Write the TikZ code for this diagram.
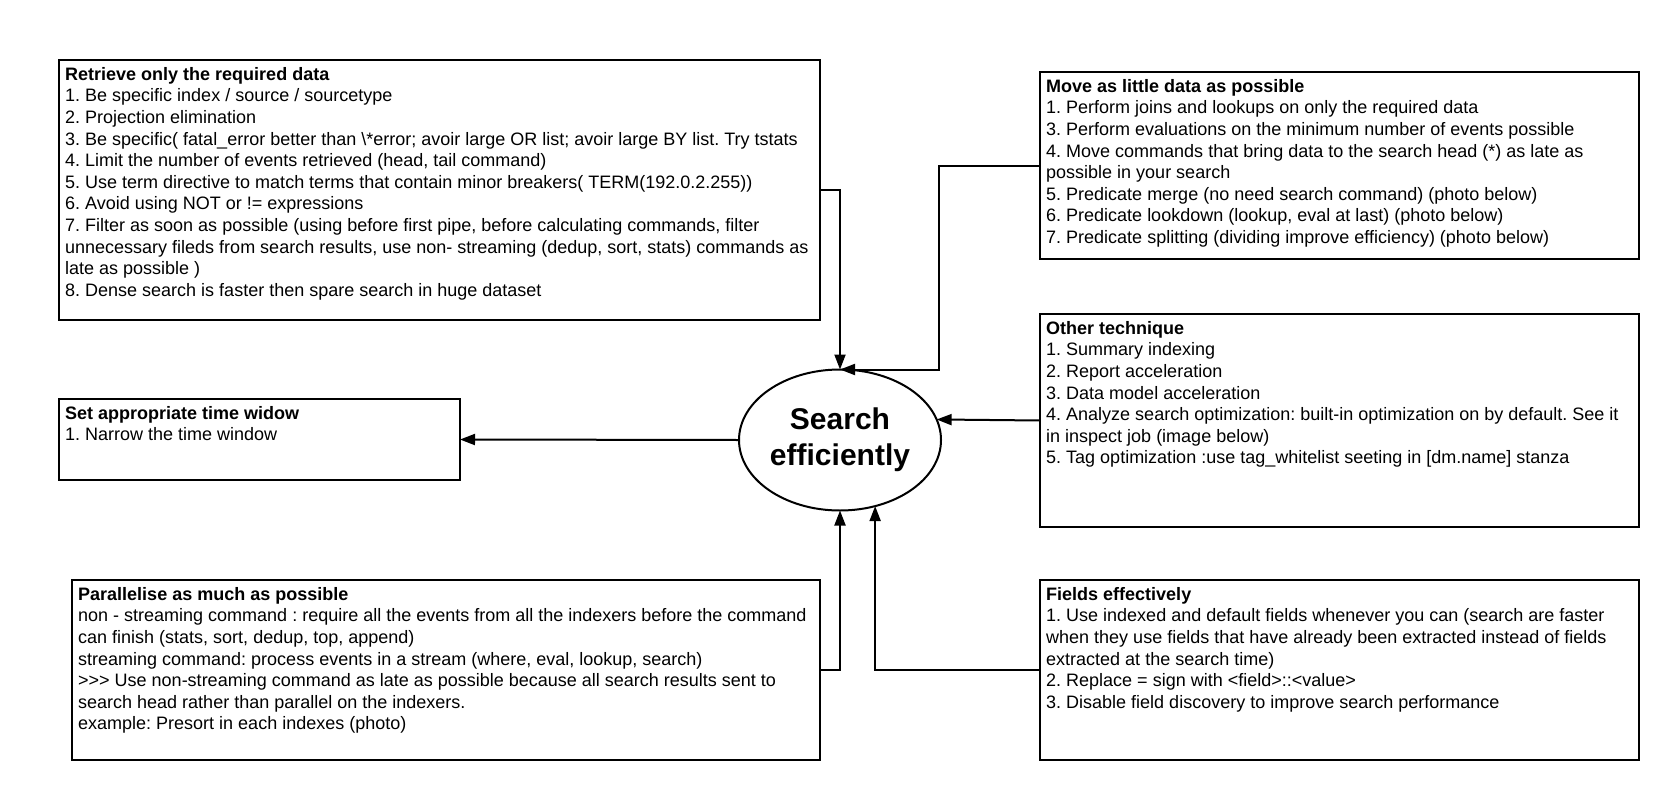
\documentclass[tikz,border=0pt]{standalone}
\usepackage{fontspec}
\setmainfont{Liberation Sans}
\usetikzlibrary{shapes.geometric, arrows.meta, positioning}
\frenchspacing

\tikzset{
    box/.style={draw, line width=2pt, rectangle, anchor=north west, inner sep=0pt, outer sep=0pt},
    txt/.style={anchor=north west, inner sep=0pt, align=left, font=\fontsize{18}{21.6}\selectfont},
    conn/.style={line width=2pt, -{Triangle[length=15pt,width=11pt]}},
}

\begin{document}
\begin{tikzpicture}[x=1pt, y=-1pt]
    %% canvas
    \useasboundingbox (0,0) rectangle (1680,800);

    %% centre
    \node[ellipse, draw, line width=2pt, inner sep=0pt, outer sep=0pt,
          minimum width=202pt, minimum height=141pt, align=center,
          font=\bfseries\fontsize{30}{36}\selectfont] (ell) at (840,440) {Search\\efficiently};

    %% boxes on the left
    \node[box, minimum width=761pt, minimum height=260pt] (retr) at (59,60) {};
    \node[box, minimum width=401pt, minimum height=81pt] (time) at (59,399) {};
    \node[box, minimum width=748pt, minimum height=180pt] (par) at (72,580) {};

    %% boxes on the right
    \node[box, minimum width=599pt, minimum height=187pt] (move) at (1040,72) {};
    \node[box, minimum width=599pt, minimum height=213pt] (other) at (1040,314) {};
    \node[box, minimum width=599pt, minimum height=180pt] (fields) at (1040,580) {};

    % texts inside the boxes
    \node[txt, below right=7pt and 6pt of retr.north west] (retrtxt) {%
        \textbf{Retrieve only the required data}\\
        1. Be specific index / source / sourcetype\\
        2. Projection elimination\\
        3. Be specific( fatal\_error better than \textbackslash*error; avoir large OR list; avoir large BY list. Try tstats\\
        4. Limit the number of events retrieved (head, tail command)\\
        5. Use term directive to match terms that contain minor breakers( TERM(192.0.2.255))\\
        6. Avoid using NOT or != expressions\\
        7. Filter as soon as possible (using before first pipe, before calculating commands, filter\\
        unnecessary fileds from search results, use non- streaming (dedup, sort, stats) commands as\\
        late as possible )\\
        8. Dense search is faster then spare search in huge dataset};
    \node[txt, below right=7pt and 6pt of time.north west] (timetxt) {%
        \textbf{Set appropriate time widow}\\
        1. Narrow the time window};
    \node[txt, below right=7pt and 6pt of par.north west] (partxt) {%
        \textbf{Parallelise as much as possible}\\
        non - streaming command : require all the events from all the indexers before the command\\
        can finish (stats, sort, dedup, top, append)\\
        streaming command: process events in a stream (where, eval, lookup, search)\\
        >\kern0pt>\kern0pt> Use non-streaming command as late as possible because all search results sent to\\
        search head rather than parallel on the indexers.\\
        example: Presort in each indexes (photo)};
    \node[txt, below right=7pt and 6pt of move.north west] (movetxt) {%
        \textbf{Move as little data as possible}\\
        1. Perform joins and lookups on only the required data\\
        3. Perform evaluations on the minimum number of events possible\\
        4. Move commands that bring data to the search head (*) as late as\\
        possible in your search\\
        5. Predicate merge (no need search command) (photo below)\\
        6. Predicate lookdown (lookup, eval at last) (photo below)\\
        7. Predicate splitting (dividing improve efficiency) (photo below)};
    \node[txt, below right=7pt and 6pt of other.north west] (othertxt) {%
        \textbf{Other technique}\\
        1. Summary indexing\\
        2. Report acceleration\\
        3. Data model acceleration\\
        4. Analyze search optimization: built-in optimization on by default. See it\\
        in inspect job (image below)\\
        5. Tag optimization :use tag\_whitelist seeting in [dm.name] stanza};
    \node[txt, below right=7pt and 6pt of fields.north west] (fieldstxt) {%
        \textbf{Fields effectively}\\
        1. Use indexed and default fields whenever you can (search are faster\\
        when they use fields that have already been extracted instead of fields\\
        extracted at the search time)\\
        2. Replace = sign with <field>::<value>\\
        3. Disable field discovery to improve search performance};

    %% connectors
    \draw[conn] (retr.east) -| (ell.north);
    \draw[conn] (move.west) -- ++(-101,0) |- (ell.north);
    \draw[conn] (ell.west) -- (time.east);
    \draw[conn] (other.west) -- (ell.12);
    \draw[conn] (par.east) -| (ell.south);
    \draw[conn] (fields.west) -| (ell.-62);
\end{tikzpicture}
\end{document}
